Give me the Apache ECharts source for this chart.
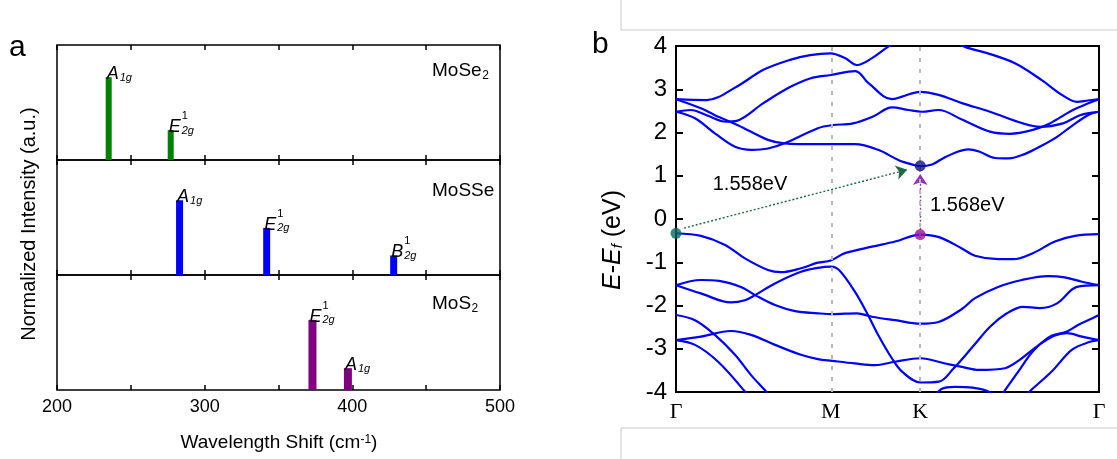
<!DOCTYPE html>
<html>
<head>
<meta charset="utf-8">
<title>Raman shift and band structure</title>
<script src="https://cdn.jsdelivr.net/npm/echarts@6/dist/echarts.min.js"></script>
<style>
    html, body { margin: 0; padding: 0; background: #fff; }
    #main { width: 1117px; height: 459px; }
</style>
</head>
<body>
<div id="main"></div>
<script>
// ---- panel a : Raman peaks (cm-1, normalized intensity)
const ramanLabels = [200, 300, 400, 500];
const moSe2Shift = [235, 277];
const moSe2Int = [0.72, 0.26];
const moSe2Modes = ['A1g', 'E2g1'];
const moSSeShift = [283, 342, 428];
const moSSeInt = [0.65, 0.41, 0.17];
const moSSeModes = ['A1g', 'E2g1', 'B2g1'];
const moS2Shift = [373, 397];
const moS2Int = [0.61, 0.19];
const moS2Modes = ['E2g1', 'A1g'];

// ---- panel b : band structure along Γ-M-K-Γ (k in 2π/a, E in eV)
const kPath = [0, 0.5774, 0.9107, 1.5774];
const kLabels = ['Γ', 'M', 'K', 'Γ'];
const cb4 = [[0,2.77],[0.114,2.75],[0.226,3.06],[0.326,3.45],[0.425,3.68],[0.500,3.79],[0.577,3.83],[0.630,3.72],[0.675,3.56],[0.731,3.72],[0.790,3.98],[0.911,4.45],[1.078,3.98],[1.163,3.83],[1.264,3.60],[1.364,3.21],[1.439,2.87],[1.495,2.71],[1.536,2.74],[1.577,2.77]];
const cb3 = [[0,2.48],[0.056,2.52],[0.114,2.40],[0.187,2.25],[0.226,2.27],[0.326,2.68],[0.425,3.05],[0.500,3.25],[0.577,3.33],[0.669,3.42],[0.718,3.14],[0.805,2.77],[0.843,2.83],[0.911,2.94],[0.979,2.87],[1.066,2.68],[1.171,2.48],[1.294,2.21],[1.357,2.13],[1.443,2.21],[1.506,2.40],[1.551,2.46],[1.577,2.48]];
const cb2 = [[0,2.48],[0.071,2.33],[0.145,1.98],[0.220,1.67],[0.282,1.60],[0.343,1.63],[0.405,1.75],[0.529,2.10],[0.582,2.17],[0.660,2.21],[0.735,2.37],[0.805,2.58],[0.867,2.52],[0.917,2.48],[0.979,2.52],[1.066,2.30],[1.171,2.02],[1.245,1.97],[1.331,2.06],[1.394,2.21],[1.480,2.52],[1.540,2.68],[1.577,2.77]];
const cb1 = [[0,2.77],[0.093,2.56],[0.145,2.40],[0.231,2.17],[0.343,1.83],[0.405,1.75],[0.529,1.73],[0.582,1.73],[0.667,1.73],[0.754,1.60],[0.831,1.36],[0.887,1.25],[0.911,1.22],[0.955,1.26],[0.995,1.40],[1.047,1.55],[1.090,1.61],[1.130,1.56],[1.190,1.41],[1.240,1.40],[1.300,1.50],[1.365,1.70],[1.421,1.90],[1.469,2.12],[1.536,2.40],[1.577,2.48]];
const vb1 = [[0,-0.33],[0.093,-0.39],[0.183,-0.60],[0.257,-0.91],[0.343,-1.18],[0.391,-1.23],[0.466,-1.14],[0.529,-1.01],[0.577,-0.96],[0.630,-0.79],[0.731,-0.64],[0.817,-0.52],[0.911,-0.36],[0.981,-0.42],[1.066,-0.68],[1.115,-0.85],[1.201,-0.93],[1.257,-0.93],[1.331,-0.79],[1.413,-0.52],[1.488,-0.39],[1.577,-0.35]];
const vb2 = [[0,-1.53],[0.093,-1.72],[0.205,-1.93],[0.257,-1.88],[0.295,-1.76],[0.369,-1.49],[0.466,-1.22],[0.529,-1.13],[0.577,-1.10],[0.608,-1.18],[0.667,-1.68],[0.716,-2.22],[0.754,-2.68],[0.805,-3.22],[0.843,-3.53],[0.911,-3.78],[0.981,-3.76],[1.033,-3.47],[1.107,-2.95],[1.171,-2.49],[1.234,-2.18],[1.294,-2.03],[1.357,-2.06],[1.421,-1.95],[1.495,-1.57],[1.577,-1.53]];
const vb3 = [[0,-1.53],[0.093,-1.41],[0.160,-1.43],[0.242,-1.57],[0.295,-1.76],[0.369,-1.99],[0.444,-2.13],[0.529,-2.18],[0.582,-2.20],[0.675,-2.18],[0.731,-2.26],[0.817,-2.34],[0.911,-2.42],[0.979,-2.38],[1.066,-2.08],[1.115,-1.83],[1.201,-1.57],[1.290,-1.41],[1.387,-1.32],[1.450,-1.35],[1.514,-1.45],[1.577,-1.53]];
const vb4 = [[0,-2.80],[0.093,-2.72],[0.205,-2.59],[0.280,-2.68],[0.369,-2.91],[0.466,-3.14],[0.529,-3.24],[0.582,-3.28],[0.667,-3.34],[0.742,-3.38],[0.817,-3.30],[0.911,-3.22],[1.003,-3.34],[1.066,-3.42],[1.130,-3.49],[1.227,-3.45],[1.283,-3.25],[1.345,-2.95],[1.410,-2.70],[1.458,-2.64],[1.514,-2.72],[1.577,-2.80]];
const vb5 = [[0,-2.22],[0.071,-2.34],[0.145,-2.68],[0.220,-3.14],[0.280,-3.61],[0.336,-3.99],[0.390,-4.40]];
const vb6 = [[0,-2.80],[0.071,-2.91],[0.157,-3.30],[0.257,-3.99],[0.300,-4.35]];
const vb7 = [[1.170,-4.50],[1.219,-4.03],[1.283,-3.47],[1.331,-3.06],[1.394,-2.72],[1.458,-2.60],[1.499,-2.45],[1.551,-2.30],[1.577,-2.22]];
const vb8 = [[1.260,-4.40],[1.312,-4.03],[1.402,-3.52],[1.477,-3.02],[1.544,-2.84],[1.577,-2.80]];
const vb9 = [[0.955,-4.20],[0.990,-3.93],[1.040,-3.88],[1.107,-3.90],[1.163,-3.98],[1.210,-4.20]];
const bands = [cb4, cb3, cb2, cb1, vb1, vb2, vb3, vb4, vb5, vb6, vb7, vb8, vb9];

// band edges and the two gaps
const vbmGamma = [0, -0.33];
const cbmK = [0.9107, 1.23];
const vbmK = [0.9107, -0.36];
const indirectArrow = [[0.03, -0.21], [0.862, 1.14]];
const directArrow = [[0.9107, -0.25], [0.9107, 1.04]];
const gapLabels = ['1.558eV', '1.568eV'];

const fontSans = '"Liberation Sans", Arial, Helvetica, sans-serif';
const fontSerif = '"Liberation Serif", "Times New Roman", serif';

const modeRich = {
    m: { fontFamily: fontSans, fontSize: 18, fontStyle: 'italic', color: '#000', lineHeight: 18, verticalAlign: 'top', padding: [0, 0, 5, 0] },
    s: { fontFamily: fontSans, fontSize: 11, fontStyle: 'italic', color: '#000', lineHeight: 12, verticalAlign: 'bottom', padding: [0, 0, 0, 1] },
    u: { fontFamily: fontSans, fontSize: 11, color: '#000', lineHeight: 4, padding: [0, 0, 0, 13] }
};
function modeText(mode) {
    const sup = mode.slice(3);
    return (sup ? '{u|' + sup + '}\n' : '') + '{m|' + mode[0] + '}{s|' + mode.slice(1, 3) + '}';
}

// width of a text run, to hang a subscript after it
const measure = document.createElement('canvas').getContext('2d');
function textWidth(text, font) {
    measure.font = font;
    return measure.measureText(text).width;
}

const ramanPanels = [
    { name: 'MoSe', sub: '2', shift: moSe2Shift, value: moSe2Int, modes: moSe2Modes, color: '#008000', barWidth: 6, labelTop: 61 },
    { name: 'MoSSe', sub: '', shift: moSSeShift, value: moSSeInt, modes: moSSeModes, color: '#0000ff', barWidth: 7, labelTop: 181 },
    { name: 'MoS', sub: '2', shift: moS2Shift, value: moS2Int, modes: moS2Modes, color: '#800080', barWidth: 8, labelTop: 294 }
];
const panelTop = [45, 160, 275];

const grids = [], xAxes = [], yAxes = [], series = [], graphics = [];
const nameFont = '19px ' + fontSans;

ramanPanels.forEach((p, i) => {
    grids.push({ left: 57, top: panelTop[i], width: 443, height: 115, show: true, borderColor: '#000', borderWidth: 1.5, outerBoundsMode: 'none' });
    const isLast = i === ramanPanels.length - 1;
    xAxes.push({
        gridIndex: i, type: 'value', position: 'bottom', min: 200, max: 500, interval: 50,
        axisLine: { show: false }, splitLine: { show: false },
        axisTick: { inside: true, length: 5, lineStyle: { color: '#000', width: 1.5 } },
        axisLabel: {
            show: isLast, margin: 8, color: '#000', fontFamily: fontSans, fontSize: 18,
            formatter: v => ramanLabels.includes(v) ? String(v) : ''
        }
    });
    xAxes.push({
        gridIndex: i, type: 'value', position: 'top', min: 200, max: 500, interval: 50,
        axisLine: { show: false }, splitLine: { show: false }, axisLabel: { show: false },
        axisTick: { inside: true, length: 5, lineStyle: { color: '#000', width: 1.5 } }
    });
    yAxes.push({ gridIndex: i, type: 'value', min: 0, max: 1, show: false });
    series.push({
        type: 'bar', xAxisIndex: 2 * i, yAxisIndex: i, barWidth: p.barWidth,
        data: p.shift.map((s, j) => [s, p.value[j]]),
        itemStyle: { color: p.color },
        label: {
            show: true, position: [1, 6], align: 'left', verticalAlign: 'bottom',
            formatter: params => modeText(p.modes[params.dataIndex]),
            rich: modeRich
        },
        silent: true
    });
    graphics.push({
        type: 'text', x: 432, y: p.labelTop,
        style: { text: p.name, font: nameFont, fill: '#000', align: 'left', verticalAlign: 'top' }
    });
    if (p.sub) {
        graphics.push({
            type: 'text', x: 432 + textWidth(p.name, nameFont) + 0.5, y: p.labelTop + 9,
            style: { text: p.sub, font: '12px ' + fontSans, fill: '#000', align: 'left', verticalAlign: 'top' }
        });
    }
});

// band structure grid
grids.push({ left: 676, top: 46, width: 423, height: 346, show: true, borderColor: '#000', borderWidth: 2, outerBoundsMode: 'none' });
xAxes.push({
    gridIndex: 3, type: 'value', min: kPath[0], max: kPath[3],
    axisLine: { show: false }, axisTick: { show: false }, splitLine: { show: false },
    axisLabel: {
        customValues: kPath, margin: 9, color: '#000', fontFamily: fontSerif, fontSize: 22,
        formatter: v => {
            const j = kPath.findIndex(k => Math.abs(k - v) < 1e-3);
            return j >= 0 ? kLabels[j] : '';
        }
    }
});
const eTick = { inside: true, length: 7, lineStyle: { color: '#000', width: 2 } };
yAxes.push({
    gridIndex: 3, type: 'value', min: -4, max: 4, interval: 1, position: 'left',
    axisLine: { show: false }, splitLine: { show: false }, axisTick: eTick,
    axisLabel: { margin: 9, color: '#000', fontFamily: fontSans, fontSize: 24 }
});
yAxes.push({
    gridIndex: 3, type: 'value', min: -4, max: 4, interval: 1, position: 'right',
    axisLine: { show: false }, splitLine: { show: false }, axisTick: eTick,
    axisLabel: { show: false }
});

// high-symmetry guide lines
series.push({
    type: 'line', xAxisIndex: 6, yAxisIndex: 3, data: [], z: 1, silent: true,
    markLine: {
        silent: true, symbol: 'none', label: { show: false },
        lineStyle: { type: [4, 7], color: '#b8b8b8', width: 2 },
        data: [{ xAxis: kPath[1] }, { xAxis: kPath[2] }]
    }
});
bands.forEach(b => {
    series.push({
        type: 'line', xAxisIndex: 6, yAxisIndex: 3, data: b, showSymbol: false, smooth: 0.35,
        lineStyle: { color: '#0000ff', width: 2.2 }, z: 3, silent: true
    });
});
series.push({
    type: 'lines', coordinateSystem: 'cartesian2d', xAxisIndex: 6, yAxisIndex: 3, z: 4, silent: true,
    symbol: ['none', 'arrow'], symbolSize: 11,
    data: [
        { coords: indirectArrow, lineStyle: { color: '#1f6a46', type: [2, 2], width: 1.4, opacity: 1 } },
        { coords: directArrow, lineStyle: { color: '#9530b8', type: [2, 2], width: 1.4, opacity: 1 } }
    ]
});
[[vbmGamma, '#0b6a62'], [cbmK, '#101080'], [vbmK, '#9c0f9c']].forEach(([pt, c]) => {
    series.push({
        type: 'scatter', xAxisIndex: 6, yAxisIndex: 3, data: [pt], symbolSize: 11, z: 5, silent: true,
        itemStyle: { color: c }
    });
});

// texts and frame boxes
graphics.push(
    { type: 'rect', shape: { x: 621, y: -1, width: 520, height: 31 }, style: { fill: '#fff', stroke: '#c8c8c8', lineWidth: 1 } },
    { type: 'rect', shape: { x: 621, y: 428, width: 520, height: 40 }, style: { fill: '#fff', stroke: '#c8c8c8', lineWidth: 1 } },
    { type: 'text', x: 9, y: 33, style: { text: 'a', font: '30px ' + fontSans, fill: '#000' } },
    { type: 'text', x: 592, y: 30, style: { text: 'b', font: '30px ' + fontSans, fill: '#000' } },
    {
        type: 'text', x: 29, y: 224, rotation: Math.PI / 2,
        style: { text: 'Normalized Intensity (a.u.)', font: '20px ' + fontSans, fill: '#000', align: 'center', verticalAlign: 'middle' }
    },
    {
        type: 'text', x: 279, y: 443,
        style: {
            text: '{n|Wavelength Shift (cm}{p|-1}{n|)}', align: 'center', verticalAlign: 'middle',
            rich: {
                n: { fontFamily: fontSans, fontSize: 19, color: '#000', lineHeight: 19, verticalAlign: 'bottom', padding: [5, 0, 0, 0] },
                p: { fontFamily: fontSans, fontSize: 12, color: '#000', lineHeight: 12, verticalAlign: 'top' }
            }
        }
    },
    {
        type: 'text', x: 613, y: 240, rotation: Math.PI / 2,
        style: {
            text: '{i|E}{n|-}{i|E}{f|f}{n| (eV)}', align: 'center', verticalAlign: 'middle',
            rich: {
                i: { fontFamily: fontSans, fontSize: 25, fontStyle: 'italic', color: '#000', lineHeight: 25, verticalAlign: 'top', padding: [0, 0, 7, 0] },
                n: { fontFamily: fontSans, fontSize: 25, color: '#000', lineHeight: 25, verticalAlign: 'top', padding: [0, 0, 7, 0] },
                f: { fontFamily: fontSans, fontSize: 15, fontStyle: 'italic', color: '#000', lineHeight: 15, verticalAlign: 'bottom' }
            }
        }
    },
    { type: 'text', x: 750, y: 184, style: { text: gapLabels[0], font: '20px ' + fontSans, fill: '#000', align: 'center', verticalAlign: 'middle' } },
    { type: 'text', x: 930, y: 205, style: { text: gapLabels[1], font: '20px ' + fontSans, fill: '#000', align: 'left', verticalAlign: 'middle' } }
);

const chart = echarts.init(document.getElementById('main'), null, { renderer: 'canvas' });
chart.setOption({
    animation: false,
    backgroundColor: '#fff',
    grid: grids,
    xAxis: xAxes,
    yAxis: yAxes,
    series: series,
    graphic: graphics
});
</script>
</body>
</html>
